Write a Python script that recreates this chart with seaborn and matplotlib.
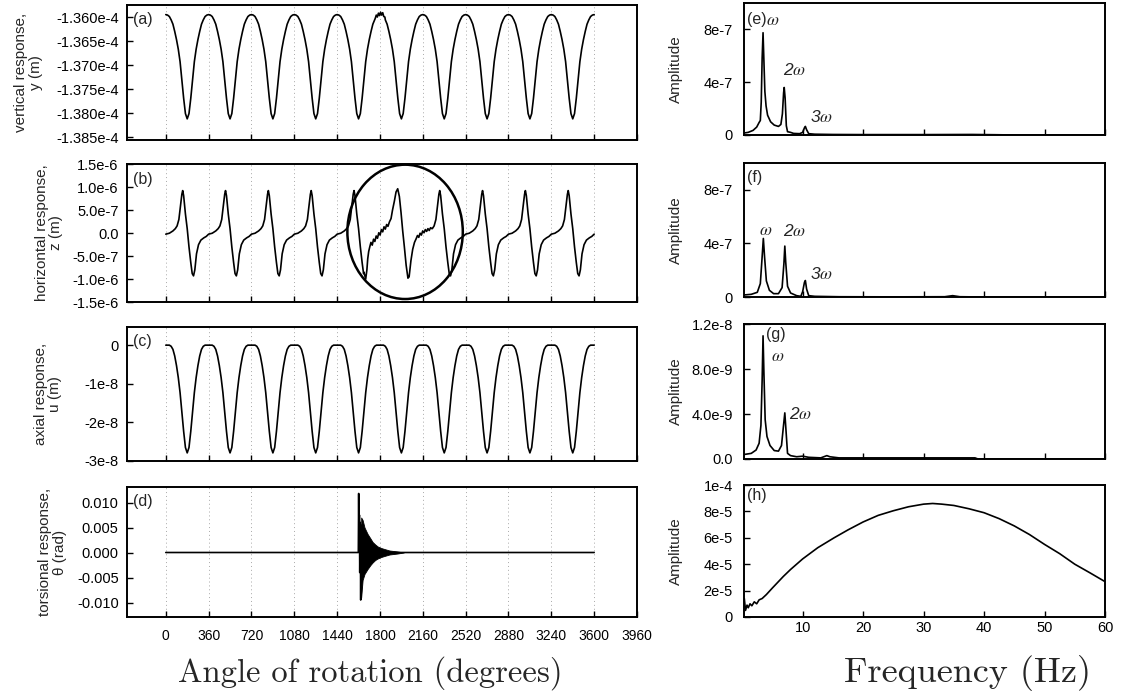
import numpy as np
import matplotlib
matplotlib.use("Agg")
import matplotlib.pyplot as plt
import seaborn as sns
from matplotlib.patches import Ellipse

# ---------------------------------------------------------------- data
n_cycles = 10
period_deg = 360

# (a) vertical response, one revolution (x1e-4 m)
a_phase = [0, 15, 30, 45, 60, 75, 90, 105, 120, 135, 150, 165, 180,
           195, 210, 225, 240, 255, 270, 285, 300, 315, 330, 345]
a_cycle = [-1.3595, -1.3596, -1.3599, -1.3606, -1.3615, -1.3630, -1.3647, -1.3667,
           -1.3693, -1.3732, -1.3769, -1.3801, -1.3812, -1.3801, -1.3769, -1.3732,
           -1.3693, -1.3667, -1.3647, -1.3630, -1.3615, -1.3606, -1.3599, -1.3596]
a_wiggle_angle = [1760, 1769, 1778, 1787, 1796, 1805, 1814, 1823, 1832, 1841]
a_wiggle_value = [-1.3603, -1.3596, -1.3600, -1.3592, -1.3597, -1.3590, -1.3596, -1.3591,
                  -1.3599, -1.3600]

# (b) horizontal response (x1e-6 m)
b_phase = [0, 30, 60, 80, 95, 110, 125, 135, 142, 150, 165, 180, 195, 210, 222, 233,
           244, 258, 275, 295, 320, 340]
b_cycle = [-0.02, 0.0, 0.05, 0.10, 0.16, 0.30, 0.62, 0.85, 0.93, 0.82, 0.42, 0.10, -0.30,
           -0.64, -0.88, -0.93, -0.80, -0.45, -0.25, -0.15, -0.10, -0.07]
b_dist_angle = [1665, 1680, 1690, 1697, 1705, 1714, 1724, 1735, 1746, 1757, 1768, 1779, 1790,
                1801, 1812, 1823, 1834, 1845, 1856, 1867, 1880, 1893, 1905, 1921, 1935, 1949,
                1963, 1977, 1991, 2005, 2020, 2035, 2045, 2060, 2075, 2090, 2104, 2115, 2126,
                2137, 2148, 2159, 2170, 2181, 2192, 2203, 2214, 2225, 2236]
b_dist_value = [-0.85, -1.0, -0.80, -0.56, -0.40, -0.30, -0.20, -0.26, -0.13, -0.18, -0.06,
                -0.11, 0.01, -0.04, 0.08, 0.03, 0.14, 0.09, 0.19, 0.15, 0.25, 0.32, 0.50, 0.70,
                0.90, 0.97, 0.80, 0.45, 0.05, -0.30, -0.70, -0.98, -0.95, -0.60, -0.35, -0.20,
                -0.12, -0.05, -0.09, 0.0, -0.04, 0.05, 0.01, 0.08, 0.04, 0.10, 0.06, 0.12, 0.10]

# (c) axial response (x1e-8 m)
c_phase = a_phase
c_cycle = [0.0, 0.0, 0.0, -0.03, -0.11, -0.28, -0.53, -0.84, -1.23, -1.73, -2.23, -2.65,
           -2.79, -2.65, -2.23, -1.73, -1.23, -0.84, -0.53, -0.28, -0.11, -0.03, 0.0, 0.0]

# (d) torsional response (rad)
d_angle = [0, 1618, 1621, 1624, 1627, 1630, 1634, 1638, 1642, 1646, 1650, 2000, 3600]
d_value = [0.0, 0.0, 0.0118, 0.001, 0.0075, -0.004, 0.006, -0.0095, 0.0055, -0.005, 0.0, 0.0, 0.0]
d_env_angle = [1642, 1654, 1670, 1696, 1720, 1738, 1760, 1781, 1810, 1837, 1880, 1949, 2000]
d_env_upper = [0.0070, 0.0065, 0.0050, 0.0037, 0.0028, 0.0021, 0.0016, 0.0012, 0.0009,
               0.0007, 0.0004, 0.0002, 0.0]
d_env_lower = [-0.0090, -0.0055, -0.0043, -0.0033, -0.0025, -0.0020, -0.0015, -0.0012,
               -0.0009, -0.0007, -0.0004, -0.0002, 0.0]

# (e) spectrum of y (x1e-7)
e_freq = [0.3, 1.0, 1.8, 2.4, 2.8, 3.0, 3.15, 3.3, 3.45, 3.6, 3.75, 3.95, 4.2, 4.7, 5.3, 6.0,
          6.4, 6.65, 6.85, 6.95, 7.1, 7.3, 7.5, 8.0, 8.5, 9.5, 10.0, 10.3, 10.45, 10.65, 11.0,
          12.0, 15.0, 20.0, 30.0, 38.0, 42.0, 45.0, 60.0]
e_amp = [0.15, 0.2, 0.35, 0.6, 0.95, 1.1, 2.5, 5.8, 7.75, 5.5, 3.3, 2.2, 1.5, 1.0, 0.75, 0.65,
         0.8, 1.6, 3.2, 3.6, 2.8, 0.7, 0.25, 0.2, 0.12, 0.1, 0.2, 0.55, 0.65, 0.4, 0.1,
         0.06, 0.04, 0.03, 0.03, 0.04, 0.02, 0.0, 0.0]
# (f) spectrum of z (x1e-7)
f_freq = [0.3, 1.5, 2.5, 3.0, 3.3, 3.5, 3.7, 4.0, 4.5, 5.2, 6.0, 6.6, 6.9, 7.05, 7.2, 7.5, 8.0,
          9.0, 9.7, 10.0, 10.3, 10.45, 10.65, 11.0, 12.0, 16.0, 25.0, 33.5, 34.8, 36.0, 40.0, 60.0]
f_amp = [0.15, 0.2, 0.35, 1.0, 3.0, 4.37, 3.0, 1.2, 0.5, 0.25, 0.25, 0.7, 2.5, 3.8, 2.6, 0.8,
         0.3, 0.1, 0.05, 0.4, 1.1, 1.23, 0.6, 0.1, 0.05, 0.02, 0.01, 0.02, 0.1, 0.02, 0.0, 0.0]
# (g) spectrum of u (x1e-9)
g_freq = [0.3, 1.5, 2.3, 2.8, 3.1, 3.3, 3.45, 3.6, 3.8, 4.1, 4.6, 5.3, 6.0, 6.5, 6.8, 7.05,
          7.25, 7.5, 8.0, 9.0, 10.0, 11.0, 13.0, 14.0, 14.5, 16.0, 25.0, 38.5, 39.0, 60.0]
g_amp = [0.4, 0.5, 0.8, 1.4, 3.0, 7.0, 10.95, 7.5, 3.5, 2.0, 1.2, 0.75, 0.7, 1.2, 2.8, 4.1,
         2.5, 0.5, 0.3, 0.2, 0.25, 0.15, 0.1, 0.3, 0.2, 0.1, 0.1, 0.1, 0.0, 0.0]
# (h) spectrum of theta (x1e-5)
h_freq = [0.35, 0.55, 0.8, 1.0, 1.3, 1.6, 2.0, 2.4, 2.8, 3.3, 4.0, 5.0, 6.8, 8.0, 10.0, 12.5,
          15.2, 17.5, 20.0, 22.5, 25.0, 27.5, 30.0, 31.5, 33.0, 35.0, 37.5, 40.0, 42.5, 45.0,
          47.5, 50.0, 52.5, 55.0, 57.5, 60.0]
h_amp = [1.4, 0.5, 0.9, 0.7, 1.0, 0.85, 1.15, 1.0, 1.3, 1.4, 1.7, 2.2, 3.07, 3.6, 4.4, 5.25,
         6.0, 6.6, 7.2, 7.7, 8.05, 8.35, 8.55, 8.6, 8.55, 8.45, 8.2, 7.9, 7.45, 6.9, 6.25,
         5.5, 4.8, 4.0, 3.35, 2.68]

angle_ticks = [0, 360, 720, 1080, 1440, 1800, 2160, 2520, 2880, 3240, 3600, 3960]
freq_ticks = [10, 20, 30, 40, 50, 60]

a_ticks = [-1.360e-4, -1.365e-4, -1.370e-4, -1.375e-4, -1.380e-4, -1.385e-4]
a_labels = ["-1.360e-4", "-1.365e-4", "-1.370e-4", "-1.375e-4", "-1.380e-4", "-1.385e-4"]
b_ticks = [1.5e-6, 1.0e-6, 5.0e-7, 0.0, -5.0e-7, -1.0e-6, -1.5e-6]
b_labels = ["1.5e-6", "1.0e-6", "5.0e-7", "0.0", "-5.0e-7", "-1.0e-6", "-1.5e-6"]
c_ticks = [0.0, -1e-8, -2e-8, -3e-8]
c_labels = ["0", "-1e-8", "-2e-8", "-3e-8"]
d_ticks = [0.010, 0.005, 0.0, -0.005, -0.010]
d_labels = ["0.010", "0.005", "0.000", "-0.005", "-0.010"]
e_ticks = [0.0, 4e-7, 8e-7]
e_labels = ["0", "4e-7", "8e-7"]
g_ticks = [0.0, 4e-9, 8e-9, 1.2e-8]
g_labels = ["0.0", "4.0e-9", "8.0e-9", "1.2e-8"]
h_ticks = [0.0, 2e-5, 4e-5, 6e-5, 8e-5, 1e-4]
h_labels = ["0", "2e-5", "4e-5", "6e-5", "8e-5", "1e-4"]


def tile(phase, cycle):
    ang = np.concatenate([np.asarray(phase, float) + k * period_deg for k in range(n_cycles)]
                         + [[n_cycles * period_deg]])
    val = np.concatenate([np.asarray(cycle, float)] * n_cycles + [[cycle[0]]])
    return ang, val


def splice(ang, val, ins_ang, ins_val):
    ins_ang = np.asarray(ins_ang, float)
    ins_val = np.asarray(ins_val, float)
    keep = (ang < ins_ang.min()) | (ang > ins_ang.max())
    a = np.concatenate([ang[keep], ins_ang])
    v = np.concatenate([val[keep], ins_val])
    o = np.argsort(a)
    return a[o], v[o]


a_x, a_y = tile(a_phase, a_cycle)
a_x, a_y = splice(a_x, a_y, a_wiggle_angle, a_wiggle_value)
a_y = a_y * 1e-4
b_x, b_y = tile(b_phase, b_cycle)
b_x, b_y = splice(b_x, b_y, b_dist_angle, b_dist_value)
b_y = b_y * 1e-6
c_x, c_y = tile(c_phase, c_cycle)
c_y = c_y * 1e-8

# ---------------------------------------------------------------- style
sns.set_style("ticks", {"xtick.direction": "in", "ytick.direction": "in"})
plt.rcParams["font.family"] = ["Liberation Sans", "DejaVu Sans"]
plt.rcParams["mathtext.fontset"] = "stix"
plt.rcParams["font.size"] = 10

W, H = 1123, 694
fig = plt.figure(figsize=(W / 100, H / 100), dpi=100)


def add_ax(l, t, r, b):
    return fig.add_axes([l / W, 1 - b / H, (r - l) / W, (b - t) / H])


LW = 1.2
TICK_FS = 10.5
left_boxes = [(127, 5, 637, 140), (127, 164, 637, 302), (127, 327, 637, 461), (127, 487, 637, 617)]
right_boxes = [(744, 3, 1105, 135), (744, 163, 1105, 297), (744, 324, 1105, 459), (744, 485, 1105, 617)]

axL = [add_ax(*bx) for bx in left_boxes]
axR = [add_ax(*bx) for bx in right_boxes]

for ax in axL + axR:
    for s in ax.spines.values():
        s.set_linewidth(1.4)
        s.set_color("black")
    ax.tick_params(direction="in", length=4, width=1, colors="black", labelsize=TICK_FS)

# left panels
left_series = [(a_x, a_y), (b_x, b_y), (c_x, c_y), (np.asarray(d_angle, float), np.asarray(d_value))]
left_lims = [(-1.3856e-4, -1.3575e-4), (-1.5e-6, 1.51e-6), (-3.0e-8, 0.47e-8), (-0.0129, 0.0131)]
left_ticks = [(a_ticks, a_labels), (b_ticks, b_labels), (c_ticks, c_labels), (d_ticks, d_labels)]
left_ylabels = ["vertical response,\ny (m)", "horizontal response,\nz (m)",
                "axial response,\nu (m)", "torsional response,\nθ (rad)"]
left_labx = [-0.165, -0.125, -0.127, -0.118]
left_tags = ["(a)", "(b)", "(c)", "(d)"]
for i, ax in enumerate(axL):
    x, y = left_series[i]
    sns.lineplot(x=x, y=y, ax=ax, color="black", linewidth=LW, estimator=None, sort=False, legend=False)
    ax.set_xlim(-326, 3960)
    ax.set_ylim(*left_lims[i])
    ax.set_xticks(angle_ticks)
    ax.set_yticks(left_ticks[i][0])
    ax.set_yticklabels(left_ticks[i][1])
    ax.tick_params(axis="y", pad=6)
    if i < 3:
        ax.set_xticklabels([])
    else:
        ax.set_xticklabels([str(t) for t in angle_ticks])
        ax.tick_params(axis="x", pad=9, labelsize=10)
    ax.xaxis.grid(True, linestyle=(0, (1, 3)), color="#a8a8a8", linewidth=0.7)
    ax.set_axisbelow(True)
    ax.set_xlabel("")
    ax.set_ylabel(left_ylabels[i], fontsize=11, linespacing=1.05)
    ax.yaxis.set_label_coords(left_labx[i], 0.5)
    ax.text(0.012, 0.945, left_tags[i], transform=ax.transAxes, fontsize=11.5, va="top", ha="left")

axL[3].fill_between(d_env_angle, d_env_lower, d_env_upper, color="black", linewidth=0.6)

# circle on (b)
axL[1].add_patch(Ellipse((2011, 0.03e-6), width=970, height=2.93e-6, fill=False,
                         edgecolor="black", linewidth=1.8, clip_on=False))

# right panels
right_series = [(e_freq, np.asarray(e_amp) * 1e-7), (f_freq, np.asarray(f_amp) * 1e-7),
                (g_freq, np.asarray(g_amp) * 1e-9), (h_freq, np.asarray(h_amp) * 1e-5)]
right_lims = [(0, 1.0e-6), (0, 1.0e-6), (0, 1.2e-8), (0, 1.0e-4)]
right_ticks = [(e_ticks, e_labels), (e_ticks, e_labels), (g_ticks, g_labels), (h_ticks, h_labels)]
for i, ax in enumerate(axR):
    x, y = right_series[i]
    sns.lineplot(x=np.asarray(x, float), y=y, ax=ax, color="black", linewidth=LW,
                 estimator=None, sort=False, legend=False)
    ax.set_xlim(0.3, 60)
    ax.set_ylim(*right_lims[i])
    ax.set_xticks(freq_ticks)
    ax.set_yticks(right_ticks[i][0])
    ax.set_yticklabels(right_ticks[i][1])
    ax.tick_params(axis="y", pad=8)
    if i < 3:
        ax.set_xticklabels([])
    else:
        ax.set_xticklabels([str(t) for t in freq_ticks])
        ax.tick_params(axis="x", pad=3)
    ax.set_xlabel("")
    ax.set_ylabel("Amplitude", fontsize=11)
    ax.yaxis.set_label_coords(-0.169, 0.5)

om = r"$\omega$"
ann_kw = dict(fontsize=12.5, style="italic", va="center", ha="center")
axR[0].text(0.008, 0.93, "(e)", transform=axR[0].transAxes, fontsize=11.5, va="top", ha="left")
axR[0].text(0.061, 0.868, om, transform=axR[0].transAxes, fontsize=12.5, va="center", ha="left")
axR[0].text(0.139, 0.492, "2" + om, transform=axR[0].transAxes, **ann_kw)
axR[0].text(0.216, 0.136, "3" + om, transform=axR[0].transAxes, **ann_kw)

axR[1].text(0.008, 0.95, "(f)", transform=axR[1].transAxes, fontsize=11.5, va="top", ha="left")
axR[1].text(0.061, 0.493, om, transform=axR[1].transAxes, **ann_kw)
axR[1].text(0.141, 0.493, "2" + om, transform=axR[1].transAxes, **ann_kw)
axR[1].text(0.216, 0.172, "3" + om, transform=axR[1].transAxes, **ann_kw)

axR[2].text(0.089, 0.919, "(g)", transform=axR[2].transAxes, fontsize=11.5, va="center", ha="center")
axR[2].text(0.094, 0.756, om, transform=axR[2].transAxes, **ann_kw)
axR[2].text(0.158, 0.333, "2" + om, transform=axR[2].transAxes, **ann_kw)

axR[3].text(0.008, 0.975, "(h)", transform=axR[3].transAxes, fontsize=11.5, va="top", ha="left")

# big axis titles
fig.text(370 / W, 1 - 682 / H, "Angle of rotation (degrees)", family="cmr10", fontsize=23.5,
         ha="center", va="baseline")
fig.text(967 / W, 1 - 682 / H, "Frequency (Hz)", family="cmr10", fontsize=26,
         ha="center", va="baseline")

fig.savefig("out.png", dpi=100)
